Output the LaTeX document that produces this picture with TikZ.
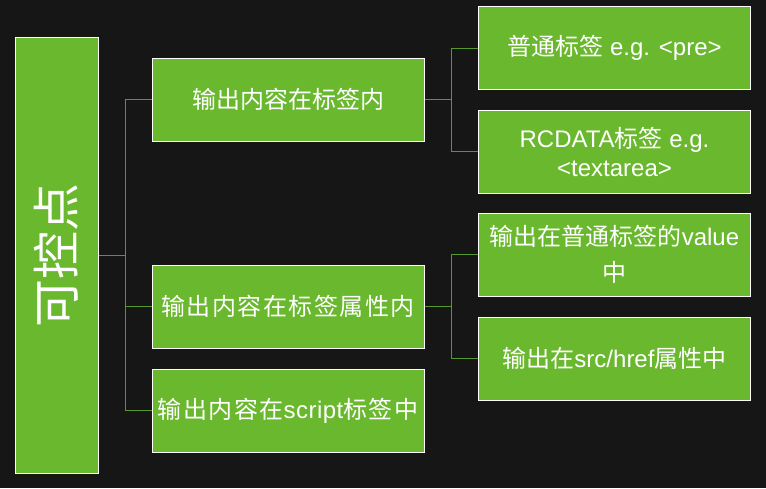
\documentclass[tikz,border=0pt]{standalone}
\usepackage{fontspec}
\setmainfont{Liberation Sans}
\newfontfamily\cjk{Noto Sans CJK SC}
\newfontfamily\cjkwide[LetterSpace=6]{Noto Sans CJK SC}
\newfontfamily\latwide[LetterSpace=2]{Liberation Sans}
\definecolor{bgc}{HTML}{161616}
\definecolor{boxgreen}{HTML}{6AB82E}
\definecolor{linkgreen}{HTML}{55982C}
\begin{document}
\begin{tikzpicture}[x=1pt,y=-1pt,
  box/.style={draw=white, line width=1pt, fill=boxgreen, text=white, align=center,
    inner sep=0pt, minimum width=272pt, minimum height=83pt,
    font=\fontsize{24}{29}\selectfont},
  link/.style={draw=linkgreen, line width=1pt}]
\fill[bgc] (0,0) rectangle (766,488);
\useasboundingbox (0,0) rectangle (766,488);
% connector junctions
\coordinate (j0) at (125,255);
\coordinate (j1) at (451,99.5);
\coordinate (j2) at (451,306.5);
% boxes
\node[box, minimum width=83pt, minimum height=436pt] (root) at (56.5,255) {};
\node[rotate=90, text=white, inner sep=0pt, font=\cjk\fontsize{48}{58}\selectfont] (rootlabel) at (56,255) {可控点};
\node[box] (A) at (288,99.5) {{\cjk 输出内容在标签内}};
\node[box] (B) at (288,306.5) {{\cjkwide 输出内容在标签属性内}};
\node[box] (C) at (288,410.5) {{\cjkwide 输出内容在}{\latwide script}{\cjkwide 标签中}};
\node[box] (D) at (614.5,48) {{\cjk 普通标签} e.g. <pre>};
\node[box] (E) at (614.5,151.5) {RCDATA{\cjk 标签} e.g.\\<textarea>};
\node[box] (F) at (614.5,254.5) {{\cjk 输出在普通标签的}value\\[7pt]{\cjk 中}};
\node[box] (G) at (614.5,358.5) {{\cjk 输出在}src/href{\cjk 属性中}};
% connectors
\draw[link] (root.east) -- (j0);
\draw[link] (j0) |- (A.west);
\draw[link] (j0) |- (B.west);
\draw[link] (j0) |- (C.west);
\draw[link] (A.east) -- (j1);
\draw[link] (j1) |- (D.west);
\draw[link] (j1) |- (E.west);
\draw[link] (B.east) -- (j2);
\draw[link] (j2) |- (F.west);
\draw[link] (j2) |- (G.west);
\end{tikzpicture}
\end{document}
